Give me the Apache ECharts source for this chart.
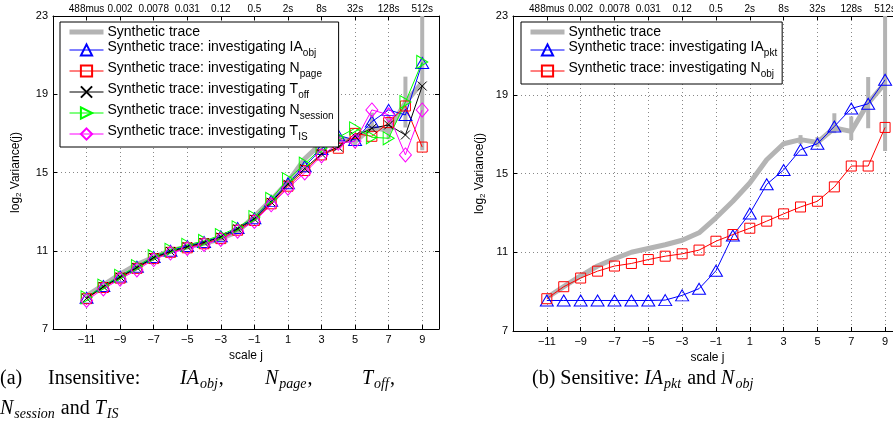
<!DOCTYPE html>
<html>
<head>
<meta charset="utf-8">
<script src="https://cdn.jsdelivr.net/npm/echarts/dist/echarts.min.js"></script>
<style>
  html, body { margin: 0; padding: 0; background: #fff; }
  #main { width: 893px; height: 431px; }
</style>
</head>
<body>
<div id="main"></div>
<script>
// scale j and the time labels on the top axis
var scales = [-11, -10, -9, -8, -7, -6, -5, -4, -3, -2, -1, 0, 1, 2, 3, 4, 5, 6, 7, 8, 9]
var timeLabels = ['488mus', '0.002', '0.0078', '0.031', '0.12', '0.5', '2s', '8s', '32s', '128s', '512s']

// synthetic trace (grey) and its error bars
var trace = [8.69, 9.25, 9.8, 10.3, 10.67, 11.0, 11.19, 11.38, 11.61, 11.99, 12.75, 13.59, 14.52, 15.7, 16.51, 16.72, 16.58, 17.31, 17.14, 18.58, 19.59]
var errScales = [4, 5, 6, 7, 8, 9]
var errLow = [16.5, 16.35, 17.05, 16.7, 17.3, 16.14]
var errHigh = [16.95, 16.85, 18.06, 17.9, 19.9, 23]

// (a) insensitive
var iaObj = [8.6, 9.2, 9.68, 10.18, 10.68, 11.0, 11.24, 11.45, 11.74, 12.16, 12.66, 13.55, 14.45, 15.32, 16.2, 16.9, 16.66, 17.6, 18.2, 17.94, 20.6]
var nPage = [8.55, 9.12, 9.6, 10.1, 10.6, 10.92, 11.15, 11.36, 11.62, 12.05, 12.55, 13.4, 14.3, 15.1, 15.9, 16.24, 17.0, 16.85, 17.55, 18.4, 16.3]
var tOff = [8.57, 9.16, 9.65, 10.14, 10.65, 10.96, 11.2, 11.42, 11.7, 12.12, 12.62, 13.48, 14.4, 15.2, 15.95, 16.3, 16.85, 17.26, 17.43, 16.92, 19.42]
var nSession = [8.62, 9.22, 9.72, 10.22, 10.72, 11.05, 11.3, 11.5, 11.8, 12.2, 12.72, 13.65, 14.65, 15.45, 16.25, 16.8, 17.26, 16.8, 16.75, 18.6, 20.65]
var tIS = [8.46, 9.05, 9.55, 10.02, 10.55, 10.88, 11.12, 11.32, 11.58, 12.0, 12.5, 13.35, 14.2, 14.98, 15.85, 16.5, 16.6, 18.2, 17.95, 15.9, 18.2]

// (b) sensitive
var iaPkt = [8.55, 8.55, 8.55, 8.55, 8.55, 8.55, 8.55, 8.57, 8.81, 9.15, 10.06, 11.85, 12.97, 14.45, 15.18, 16.21, 16.51, 17.39, 18.3, 18.54, 19.76]
var nObj = [8.64, 9.25, 9.69, 10.04, 10.3, 10.43, 10.63, 10.8, 10.92, 11.11, 11.56, 11.9, 12.22, 12.58, 12.95, 13.3, 13.59, 14.32, 15.38, 15.38, 17.34]

var TRACE = 'Synthetic trace'
var PRE = 'Synthetic trace: investigating '
var GREY = '#b4b4b4'
var GRID_COLOR = '#888'
var FONT = 'Liberation Sans'

function pairs (arr) {
  return scales.map(function (j, i) { return [j, arr[i]] })
}

function bottomX (gridIndex, gap) {
  return {
    type: 'value',
    gridIndex: gridIndex,
    position: 'bottom',
    min: -13,
    max: 10,
    interval: 2,
    name: 'scale j',
    nameLocation: 'middle',
    nameGap: gap,
    nameTextStyle: { color: '#000', fontSize: 12, fontFamily: FONT },
    axisLine: { show: true, onZero: false, lineStyle: { color: '#000', width: 1 } },
    axisTick: { show: true, inside: true, length: 4, lineStyle: { color: '#000' } },
    axisLabel: {
      color: '#000',
      fontSize: 11,
      fontFamily: FONT,
      margin: 5,
      formatter: function (v) {
        if (v < -11 || v > 9 || Math.abs(v % 2) !== 1) return ''
        return v < 0 ? '\u2212' + (-v) : String(v)
      }
    },
    splitLine: { show: true, lineStyle: { color: GRID_COLOR, type: [1, 3] } }
  }
}

function topX (gridIndex) {
  return {
    type: 'value',
    gridIndex: gridIndex,
    position: 'top',
    min: -13,
    max: 10,
    interval: 2,
    axisLine: { show: true, onZero: false, lineStyle: { color: '#000', width: 1 } },
    axisTick: { show: true, inside: true, length: 4, lineStyle: { color: '#000' } },
    axisLabel: {
      color: '#000',
      fontSize: 10,
      fontFamily: FONT,
      margin: 2,
      formatter: function (v) {
        return timeLabels[(v + 11) / 2] || ''
      }
    },
    splitLine: { show: false }
  }
}

function leftY (gridIndex, gap) {
  return {
    type: 'value',
    gridIndex: gridIndex,
    position: 'left',
    min: 7,
    max: 23,
    interval: 4,
    name: '{a|log}{b|2}{a| Variance(j)}',
    nameLocation: 'middle',
    nameRotate: 90,
    nameGap: gap,
    nameTextStyle: {
      color: '#000',
      rich: {
        a: { fontSize: 12, fontFamily: FONT, color: '#000', lineHeight: 13 },
        b: { fontSize: 8, fontFamily: FONT, color: '#000', lineHeight: 8, padding: [7, 0, 0, 0] }
      }
    },
    axisLine: { show: true, onZero: false, lineStyle: { color: '#000', width: 1 } },
    axisTick: { show: true, inside: true, length: 4, lineStyle: { color: '#000' } },
    axisLabel: { color: '#000', fontSize: 11, fontFamily: FONT, margin: 5 },
    splitLine: { show: true, lineStyle: { color: GRID_COLOR, type: [1, 3] } }
  }
}

function rightY (gridIndex) {
  return {
    type: 'value',
    gridIndex: gridIndex,
    position: 'right',
    min: 7,
    max: 23,
    interval: 4,
    axisLine: { show: true, onZero: false, lineStyle: { color: '#000', width: 1 } },
    axisTick: { show: true, inside: true, length: 4, lineStyle: { color: '#000' } },
    axisLabel: { show: false },
    splitLine: { show: false }
  }
}

function traceSeries (xi, yi) {
  return [
    {
      name: TRACE,
      type: 'line',
      xAxisIndex: xi,
      yAxisIndex: yi,
      data: pairs(trace),
      symbol: 'none',
      z: 1,
      lineStyle: { color: GREY, width: 5 },
      itemStyle: { color: 'rgba(0,0,0,0)', borderWidth: 0 }
    },
    {
      name: 'trace error',
      type: 'custom',
      xAxisIndex: xi,
      yAxisIndex: yi,
      z: 1,
      data: errScales.map(function (j, i) { return [j, errLow[i], errHigh[i]] }),
      renderItem: function (params, api) {
        var p1 = api.coord([api.value(0), api.value(1)])
        var p2 = api.coord([api.value(0), api.value(2)])
        return {
          type: 'line',
          shape: { x1: p1[0], y1: p1[1], x2: p2[0], y2: p2[1] },
          style: { stroke: GREY, lineWidth: 4 }
        }
      }
    }
  ]
}

function markSeries (name, arr, color, symbol, size, rotate, xi, yi) {
  return {
    name: name,
    type: 'line',
    xAxisIndex: xi,
    yAxisIndex: yi,
    data: pairs(arr),
    symbol: symbol,
    symbolSize: size,
    symbolRotate: rotate,
    showAllSymbol: true,
    lineStyle: { color: color, width: 1 },
    itemStyle: { color: 'rgba(0,0,0,0)', borderColor: color, borderWidth: 1 }
  }
}

var CROSS = 'path://M0,0L10,10M10,0L0,10'

var legendRich = {
  g: { fontSize: 14, fontFamily: FONT, color: '#000', lineHeight: 14 },
  n: { fontSize: 14, fontFamily: FONT, color: '#000', lineHeight: 15, padding: [0, 0, 6, 0] },
  s: { fontSize: 10, fontFamily: FONT, color: '#000', lineHeight: 10, padding: [6, 0, 0, 0] }
}

function legendFormat (name) {
  var parts = name.split('_')
  if (parts.length === 1) return '{g|' + name + '}'
  return '{n|' + parts[0] + '}{s|' + parts[1] + '}'
}

function legendBox (left, names) {
  var data = names.map(function (n) {
    if (n === TRACE) {
      return { name: n, lineStyle: { width: 5, color: GREY }, itemStyle: { opacity: 0 } }
    }
    return { name: n }
  })
  return {
    left: left,
    top: 22,
    orient: 'vertical',
    selectedMode: false,
    data: data,
    itemWidth: 34,
    itemHeight: 14,
    itemGap: 1,
    padding: [3, 5, 3, 7],
    backgroundColor: '#fff',
    borderColor: '#000',
    borderWidth: 1,
    borderRadius: 0,
    lineStyle: { width: 1 },
    formatter: legendFormat,
    textStyle: { rich: legendRich, padding: [0, 0, 0, -1] }
  }
}

var capRich = {
  r: { fontSize: 20, fontFamily: 'Liberation Serif', color: '#000', lineHeight: 21 },
  i: { fontSize: 20, fontFamily: 'Liberation Serif', fontStyle: 'italic', color: '#000', lineHeight: 21 },
  s: { fontSize: 14, fontFamily: 'Liberation Serif', fontStyle: 'italic', color: '#000', lineHeight: 14, padding: [10, 1, 0, 1] }
}

function caption (x, y, text) {
  return {
    type: 'text',
    x: x,
    y: y,
    style: { text: text, rich: capRich, verticalAlign: 'middle', align: 'left' }
  }
}

var myChart = echarts.init(document.getElementById('main'))
myChart.setOption({
  animation: false,
  backgroundColor: '#fff',
  textStyle: { fontFamily: FONT },
  grid: [
    { left: 53, top: 16, width: 386, height: 313, outerBoundsMode: 'none', containLabel: false },
    { left: 513, top: 16, width: 389, height: 315, outerBoundsMode: 'none', containLabel: false }
  ],
  xAxis: [bottomX(0, 18), topX(0), bottomX(1, 16), topX(1)],
  yAxis: [leftY(0, 31), rightY(0), leftY(1, 27), rightY(1)],
  legend: [
    legendBox(60, [TRACE, PRE + 'IA_obj', PRE + 'N_page', PRE + 'T_off', PRE + 'N_session', PRE + 'T_IS']),
    legendBox(521, [TRACE, PRE + 'IA_pkt', PRE + 'N_obj'])
  ],
  series: [].concat(
    traceSeries(0, 0),
    [
      markSeries(PRE + 'IA_obj', iaObj, '#0000ff', 'triangle', [13, 11], 0, 0, 0),
      markSeries(PRE + 'N_page', nPage, '#ff0000', 'rect', 10, 0, 0, 0),
      markSeries(PRE + 'T_off', tOff, '#000000', CROSS, 9, 0, 0, 0),
      markSeries(PRE + 'N_session', nSession, '#00ff00', 'triangle', [13, 11], -90, 0, 0),
      markSeries(PRE + 'T_IS', tIS, '#ff00ff', 'diamond', [12, 14], 0, 0, 0)
    ],
    traceSeries(2, 2),
    [
      markSeries(PRE + 'IA_pkt', iaPkt, '#0000ff', 'triangle', [13, 11], 0, 2, 2),
      markSeries(PRE + 'N_obj', nObj, '#ff0000', 'rect', 10, 0, 2, 2)
    ]
  ),
  graphic: [
    caption(0, 379, '{r|(a)}'),
    caption(48, 379, '{r|Insensitive:}'),
    caption(180, 379, '{i|IA}{s|obj}{r|,}'),
    caption(265, 379, '{i|N}{s|page}{r|,}'),
    caption(362, 379, '{i|T}{s|off}{r|,}'),
    caption(0, 409, '{i|N}{s|session}{r| and }{i|T}{s|IS}'),
    caption(532, 379, '{r|(b) Sensitive: }{i|IA}{s|pkt}{r| and }{i|N}{s|obj}')
  ]
})
</script>
</body>
</html>
